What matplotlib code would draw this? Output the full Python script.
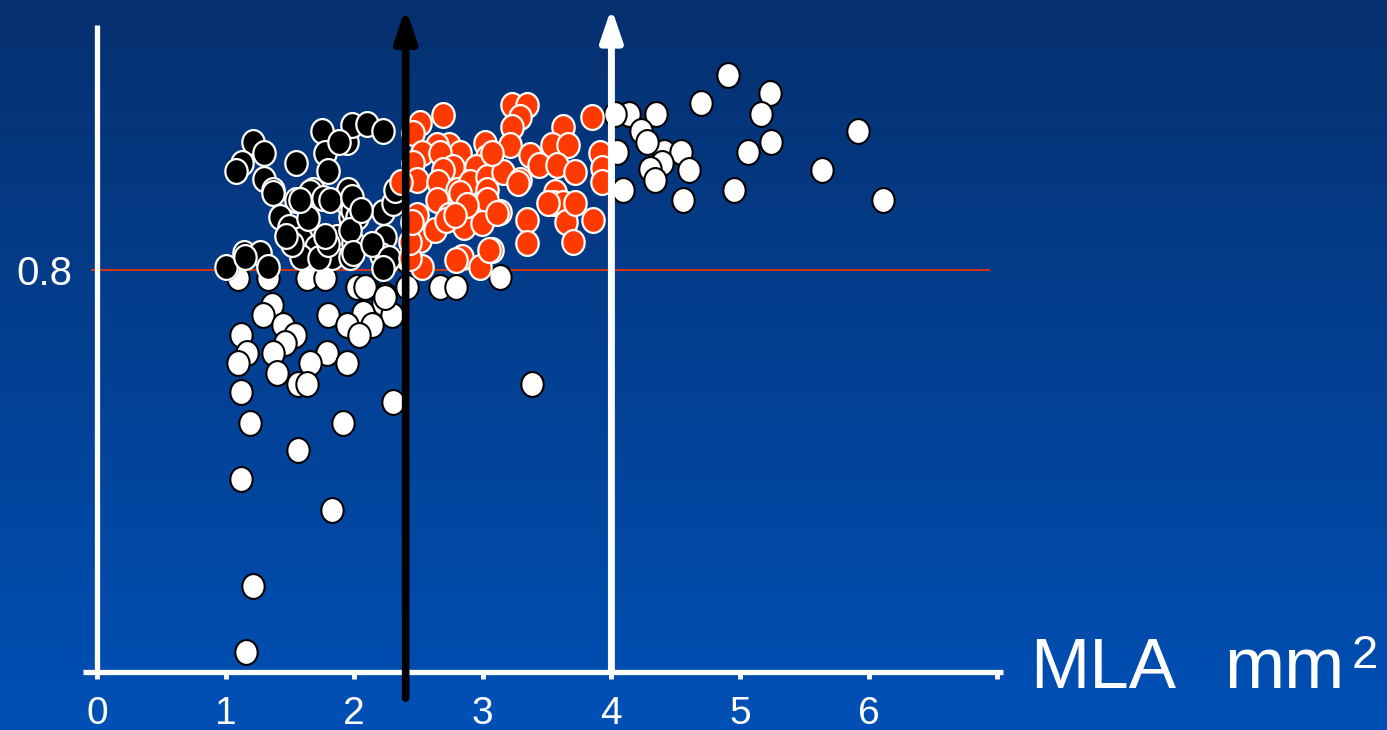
import numpy as np
import matplotlib
matplotlib.use("Agg")
import matplotlib.pyplot as plt
from matplotlib.path import Path
from matplotlib.colors import LinearSegmentedColormap

plt.rcParams['font.family'] = ['Liberation Sans', 'DejaVu Sans']

# ---- data: MLA (mm^2) vs FFR -------------------------------------------
# lesions shown as white dots
white_mla = [4.91, 5.23, 4.70, 5.16, 4.35, 4.14, 4.03, 4.23, 5.92, 5.24, 4.41, 4.54,
             5.06, 4.04, 4.39, 4.28, 4.60, 4.30, 5.64, 4.34, 4.09, 4.95, 4.56, 6.11,
             1.10, 1.33, 1.63, 1.77, 2.02, 2.10, 2.24, 2.22, 2.41, 2.67, 2.79, 3.13,
             1.36, 1.29, 1.80, 2.07, 2.29, 1.45, 1.94, 1.54, 2.14, 2.04, 1.12, 1.46,
             1.17, 1.37, 1.10, 1.79, 1.66, 1.94, 1.40, 1.56, 1.63, 1.12, 2.30, 1.19,
             1.91, 1.56, 1.12, 1.83, 1.21, 1.16, 3.38, 1.08, 2.22, 1.00, 2.40, 2.08,
             2.24]
white_ffr = [0.995, 0.977, 0.967, 0.956, 0.956, 0.956, 0.956, 0.939, 0.939, 0.928, 0.918, 0.918,
             0.918, 0.918, 0.907, 0.928, 0.900, 0.901, 0.900, 0.890, 0.880, 0.880, 0.870, 0.870,
             0.792, 0.792, 0.792, 0.792, 0.783, 0.783, 0.775, 0.767, 0.783, 0.783, 0.783, 0.793,
             0.765, 0.755, 0.755, 0.757, 0.755, 0.745, 0.745, 0.735, 0.745, 0.735, 0.735, 0.727,
             0.717, 0.717, 0.707, 0.717, 0.707, 0.707, 0.697, 0.686, 0.686, 0.678, 0.668, 0.647,
             0.647, 0.620, 0.591, 0.560, 0.484, 0.418, 0.686, 0.900, 0.939, 0.803, 0.810, 0.783,
             0.773]

# lesions shown as black dots
black_mla = [1.21, 1.30, 1.13, 1.08, 1.55, 1.75, 1.77, 1.80, 1.30, 1.37, 1.68, 1.94,
             1.98, 2.10, 2.22, 1.88, 1.66, 1.76, 1.94, 1.55, 1.37, 1.42, 1.49, 1.59,
             1.70, 1.59, 1.83, 1.97, 1.64, 1.97, 1.94, 1.94, 1.87, 1.99, 1.14, 1.27,
             1.00, 1.15, 1.33, 1.95, 1.98, 1.81, 1.58, 2.22, 2.02, 1.97, 2.24, 2.21,
             2.25, 2.30, 1.98, 1.99, 2.32, 2.14, 1.73, 2.27, 2.22, 1.80, 1.52, 1.47,
             1.77, 2.05]
black_ffr = [0.928, 0.917, 0.907, 0.899, 0.907, 0.939, 0.917, 0.899, 0.891, 0.880, 0.880, 0.928,
             0.945, 0.946, 0.939, 0.928, 0.878, 0.872, 0.877, 0.870, 0.877, 0.853, 0.843, 0.831,
             0.823, 0.813, 0.813, 0.813, 0.852, 0.853, 0.867, 0.837, 0.833, 0.827, 0.817, 0.817,
             0.803, 0.813, 0.803, 0.880, 0.860, 0.870, 0.870, 0.858, 0.853, 0.840, 0.833, 0.815,
             0.808, 0.867, 0.873, 0.817, 0.880, 0.826, 0.812, 0.812, 0.802, 0.826, 0.826, 0.834,
             0.834, 0.860]

# lesions shown as red dots
red_mla = [2.69, 2.51, 2.46, 2.74, 2.64, 3.02, 2.53, 2.82, 2.67, 3.03, 2.46, 2.77,
           2.95, 2.69, 2.49, 2.65, 2.80, 2.90, 3.03, 3.03, 2.36,
           3.23, 3.34, 3.29, 3.23, 3.62, 3.85, 3.21, 3.54, 3.66, 3.91, 3.37, 3.44,
           3.58, 3.72, 3.93, 3.16, 3.07, 3.93, 3.29, 3.56,
           3.13, 3.34, 3.34, 3.55, 3.62, 3.65, 3.86, 3.70, 3.72, 3.07,
           2.49, 2.64, 2.82, 3.03, 2.74, 2.85, 2.99, 2.51, 2.84, 2.98, 3.05, 2.53,
           2.43, 2.43, 2.45, 2.63, 2.71, 2.88, 2.78, 2.79, 3.27, 3.11, 3.51]
red_ffr = [0.955, 0.947, 0.937, 0.925, 0.925, 0.927, 0.917, 0.917, 0.917, 0.913, 0.907, 0.903,
           0.903, 0.900, 0.890, 0.888, 0.880, 0.888, 0.893, 0.880, 0.888,
           0.965, 0.965, 0.953, 0.943, 0.943, 0.953, 0.925, 0.925, 0.925, 0.917, 0.915, 0.905,
           0.905, 0.898, 0.902, 0.898, 0.917, 0.888, 0.890, 0.878,
           0.858, 0.850, 0.827, 0.867, 0.867, 0.848, 0.850, 0.828, 0.867, 0.820,
           0.855, 0.870, 0.877, 0.870, 0.855, 0.843, 0.847, 0.830, 0.813, 0.803, 0.820, 0.803,
           0.812, 0.828, 0.848, 0.840, 0.850, 0.865, 0.855, 0.810, 0.887, 0.857, 0.867]

ffr_cutoff = 0.8
black_arrow_mla = 2.4
white_arrow_mla = 4.0
x_ticks = [0, 1, 2, 3, 4, 5, 6, 7]
x_tick_labels = ['0', '1', '2', '3', '4', '5', '6', '']

# ---- figure ---------------------------------------------------------------
W, H = 1387, 730
fig = plt.figure(figsize=(W / 100, H / 100), dpi=100)

# vertical blue gradient background
bg = fig.add_axes([0, 0, 1, 1], zorder=-10)
cmap = LinearSegmentedColormap.from_list('bg', ['#06306f', '#0050b6'])
bg.imshow(np.linspace(0, 1, 256)[:, None], aspect='auto', cmap=cmap,
          extent=[0, 1, 0, 1], origin='upper')
bg.set_axis_off()

ax = fig.add_axes([83 / W, 58 / H, 920 / W, 647 / H])
ax.set_facecolor('none')
ax.set_xlim(-0.109, 7.045)
ax.set_ylim(0.398, 1.045)

for side in ('top', 'right'):
    ax.spines[side].set_visible(False)
ax.spines['left'].set_position(('data', 0))
for side in ('left', 'bottom'):
    ax.spines[side].set_color('white')
    ax.spines[side].set_linewidth(3.8)
    ax.spines[side].set_capstyle('butt')

ax.set_xticks(x_ticks)
ax.set_xticklabels(x_tick_labels)
ax.tick_params(axis='x', colors='white', length=5, width=3.5, pad=12,
               labelsize=28)
ax.set_yticks([ffr_cutoff])
ax.set_yticklabels(['0.8'])
ax.tick_params(axis='y', colors='white', length=0, pad=18, labelsize=29)

# FFR cutoff line
ax.plot([-0.04, 6.94], [ffr_cutoff, ffr_cutoff], color='#ff3300', lw=1.2,
        zorder=2)

# slightly tall ellipse marker
circ = Path.unit_circle()
ell = Path(circ.vertices * np.array([0.9, 1.0]), circ.codes)

ms = 320
ax.scatter(white_mla, white_ffr, s=ms, marker=ell, facecolor='white',
           edgecolor='black', linewidths=1.5, zorder=3)
ax.scatter(black_mla, black_ffr, s=ms, marker=ell, facecolor='black',
           edgecolor='white', linewidths=1.6, zorder=4)
ax.scatter(red_mla, red_ffr, s=ms, marker=ell, facecolor='#ff3a00',
           edgecolor='white', linewidths=1.6, zorder=5)

# vertical threshold arrows
ax.annotate('', xy=(black_arrow_mla, 1.062), xytext=(black_arrow_mla, 0.372),
            xycoords='data', annotation_clip=False,
            arrowprops=dict(arrowstyle='-|>,head_length=1.9,head_width=0.65',
                            mutation_scale=10, lw=5.5, color='black',
                            shrinkA=0, shrinkB=0), zorder=6)
ax.annotate('', xy=(white_arrow_mla, 1.062), xytext=(white_arrow_mla, 0.398),
            xycoords='data', annotation_clip=False,
            arrowprops=dict(arrowstyle='-|>,head_length=1.9,head_width=0.65',
                            mutation_scale=10, lw=5.0, color='white',
                            shrinkA=0, shrinkB=0), zorder=6)

# axis title
fig.text(1030 / W, (H - 688) / H, 'MLA', color='white', fontsize=51,
         ha='left', va='baseline')
fig.text(1224 / W, (H - 688) / H, 'mm', color='white', fontsize=52,
         ha='left', va='baseline')
fig.text(1352 / W, (H - 668) / H, '2', color='white', fontsize=34,
         ha='left', va='baseline')

fig.savefig('out.png', dpi=100)
